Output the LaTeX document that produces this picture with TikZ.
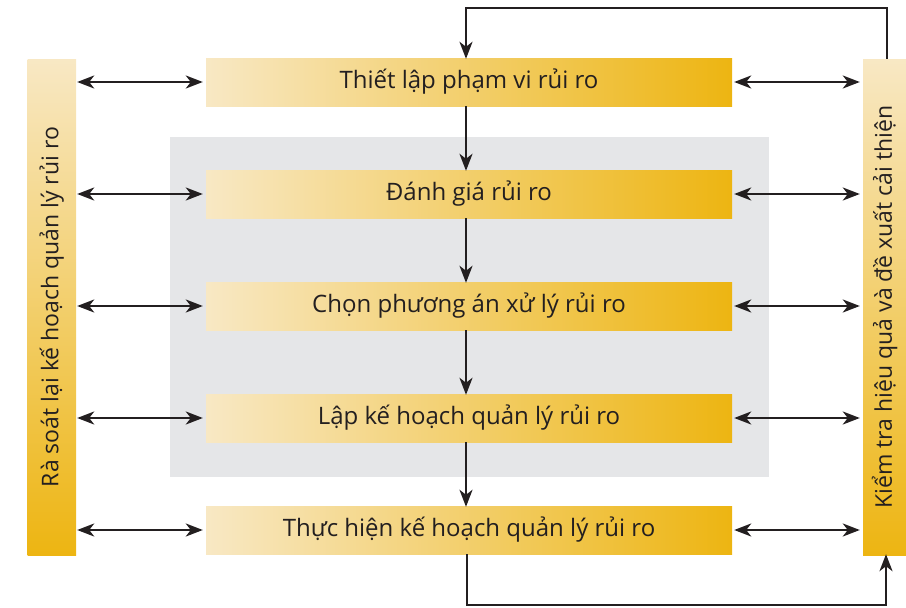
\documentclass[tikz,border=0pt]{standalone}
\usepackage{fontspec}
\setmainfont{Open Sans}
\usetikzlibrary{arrows.meta}
\definecolor{cLight}{HTML}{F8E8C4}
\definecolor{cGold}{HTML}{EDB512}
\definecolor{cGray}{HTML}{E5E6E8}
\definecolor{cText}{HTML}{231F20}
\tikzset{
  lbl/.style={font=\fontsize{24}{26}\selectfont, text=cText},
  vlbl/.style={font=\fontsize{23}{25}\selectfont, text=cText},
  hbox/.style={rectangle, minimum width=526pt, minimum height=48pt, inner sep=0pt,
    left color=cLight, right color=cGold, lbl},
  vbar/.style={rectangle, minimum height=496pt, inner sep=0pt,
    top color=cLight, bottom color=cGold},
  tip/.tip={Stealth[length=17pt,width=13pt,inset=5pt]},
  arr/.style={draw=cText, line width=2.4pt, -tip},
  darr/.style={draw=cText, line width=2.4pt, tip-tip}
}
\begin{document}
\begin{tikzpicture}[x=1pt,y=-1pt]
\useasboundingbox (0,0) rectangle (906,608);
\fill[cGray] (170,137) rectangle (769,477);
\node[hbox] (b1) at (469,82) {Thiết lập phạm vi rủi ro};
\node[hbox] (b2) at (469,194) {Đánh giá rủi ro};
\node[hbox] (b3) at (469,306) {Chọn phương án xử lý rủi ro};
\node[hbox] (b4) at (469,418) {Lập kế hoạch quản lý rủi ro};
\node[hbox] (b5) at (469,530) {Thực hiện kế hoạch quản lý rủi ro};
\node[vbar, minimum width=48.5pt] (lb) at (51.75,307) {};
\node[rotate=90, vlbl] (lbt) at (lb.center) {Rà soát lại kế hoạch quản lý rủi ro};
\node[vbar, minimum width=43pt] (rb) at (884.5,307) {};
\node[rotate=90, vlbl] (rbt) at (rb.center) {Kiểm tra hiệu quả và đề xuất cải thiện};
% vertical flow
\draw[arr] ([xshift=-3pt]b1.south) -- ([xshift=-3pt,yshift=-1pt]b2.north);
\draw[arr] ([xshift=-3pt]b2.south) -- ([xshift=-3pt,yshift=-1pt]b3.north);
\draw[arr] ([xshift=-3pt]b3.south) -- ([xshift=-3pt,yshift=-1pt]b4.north);
\draw[arr] ([xshift=-3pt]b4.south) -- ([xshift=-3pt,yshift=-1pt]b5.north);
% side arrows
\foreach \b in {b1,b2,b3,b4,b5}{
  \draw[darr] (lb.east |- \b.west) ++(1pt,0) -- ([xshift=-3pt]\b.west);
  \draw[darr] ([xshift=2pt]\b.east) -- ([xshift=-3pt]rb.west |- \b.east);
}
% feedback loops
\draw[arr] ([xshift=2.5pt]rb.north) -- ++(0,-51) -| ([xshift=-3pt,yshift=-1pt]b1.north);
\draw[arr] ([xshift=-2pt]b5.south) -- ++(0,51) -| ([xshift=1.5pt,yshift=1pt]rb.south);
\end{tikzpicture}
\end{document}
